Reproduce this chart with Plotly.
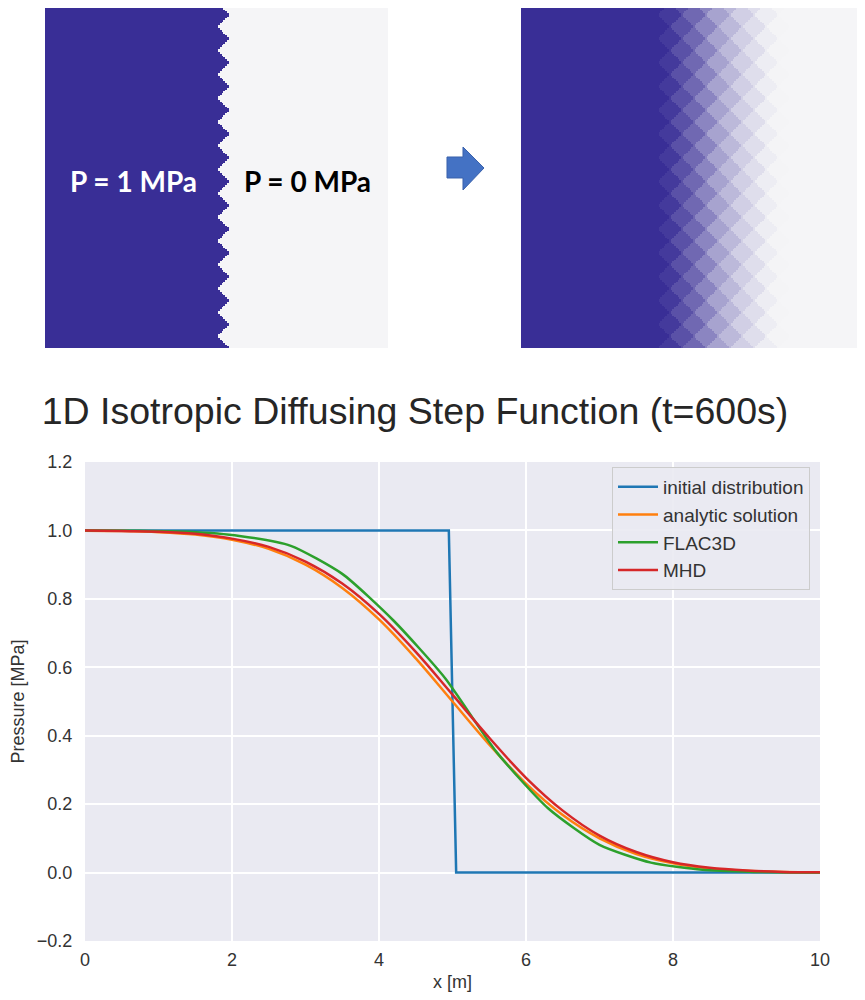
import numpy as np
import plotly.graph_objects as go

# ---------------- data ----------------
x_init = [0.0, 4.95, 5.05, 10.0]
p_init = [1.0, 1.0, 0.0, 0.0]

x_grid = [0.0, 0.5, 1.0, 1.5, 2.0, 2.5, 3.0, 3.5, 4.0, 4.5, 5.0,
          5.5, 6.0, 6.5, 7.0, 7.5, 8.0, 8.5, 9.0, 9.5, 10.0]
p_analytic = [0.999, 0.998, 0.995, 0.988, 0.973, 0.946, 0.900, 0.832, 0.740, 0.626, 0.500,
              0.374, 0.260, 0.168, 0.100, 0.054, 0.027, 0.012, 0.005, 0.002, 0.001]
p_mhd = [1.000, 0.998, 0.996, 0.990, 0.976, 0.952, 0.909, 0.845, 0.756, 0.645, 0.520,
         0.394, 0.277, 0.181, 0.108, 0.060, 0.030, 0.014, 0.006, 0.002, 0.001]

x_flac = [0.0, 0.7, 1.4, 2.1, 2.8, 3.5, 4.2, 4.9, 5.6, 6.3, 7.0, 7.7, 8.4, 9.1, 9.8, 10.0]
p_flac = [1.000, 0.999, 0.996, 0.984, 0.955, 0.873, 0.736, 0.568, 0.352, 0.188, 0.081,
          0.029, 0.008, 0.002, 0.000, 0.000]

series_names = ["initial distribution", "analytic solution", "FLAC3D", "MHD"]
series_colors = ["#1f77b4", "#ff7f0e", "#2ca02c", "#d62728"]

x_ticks = [0, 2, 4, 6, 8, 10]
y_ticks = [-0.2, 0.0, 0.2, 0.4, 0.6, 0.8, 1.0, 1.2]

# page body has an 8px margin, so the figure is drawn from (8, 8)
OFF = 8
W, H = 865 - OFF, 1000 - 2 * OFF


def px(x):
    return min(1.0, max(0.0, (x - OFF) / W))


def py(y):
    return min(1.0, max(0.0, 1 - (y - OFF) / H))


# ---------------- diamond-mesh pressure panels ----------------
mesh_d = 0.7
mesh_shift = 0.12
cells = np.arange(0.025, 10.0, 0.05)
U, V = np.meshgrid(cells, cells)
A = np.round((U - mesh_shift + V) / mesh_d)
B = np.round((U - mesh_shift - V) / mesh_d)
center_x = (A + B) / 2 * mesh_d
z_before = np.interp(center_x, x_init, p_init)
z_after = np.interp(center_x, x_flac, p_flac)

panel_scale = [[0.0, "rgb(245,245,247)"], [1.0, "rgb(57,46,150)"]]

fig = go.Figure()

fig.add_trace(go.Heatmap(x=cells, y=cells, z=z_before, colorscale=panel_scale,
                         zmin=0.0, zmax=1.0, showscale=False, hoverinfo="skip",
                         xaxis="x2", yaxis="y2", showlegend=False))
fig.add_trace(go.Heatmap(x=cells, y=cells, z=z_after, colorscale=panel_scale,
                         zmin=0.05, zmax=0.78, showscale=False, hoverinfo="skip",
                         xaxis="x3", yaxis="y3", showlegend=False))

# ---------------- line chart ----------------
fig.add_trace(go.Scatter(x=x_init, y=p_init, mode="lines", name=series_names[0],
                         line=dict(color=series_colors[0], width=2.5)))
fig.add_trace(go.Scatter(x=x_grid, y=p_analytic, mode="lines", name=series_names[1],
                         line=dict(color=series_colors[1], width=2.5, shape="spline")))
fig.add_trace(go.Scatter(x=x_flac, y=p_flac, mode="lines", name=series_names[2],
                         line=dict(color=series_colors[2], width=2.5, shape="spline",
                                   smoothing=0.6)))
fig.add_trace(go.Scatter(x=x_grid, y=p_mhd, mode="lines", name=series_names[3],
                         line=dict(color=series_colors[3], width=2.5, shape="spline")))

hidden = dict(visible=False, range=[0, 10], fixedrange=True)

fig.update_layout(
    width=W, height=H,
    margin=dict(l=0, r=0, t=0, b=0),
    paper_bgcolor="white",
    plot_bgcolor="#EAEAF2",
    font=dict(family="Liberation Sans, Arial, sans-serif", color="#333333", size=18),
    title=dict(text="1D Isotropic Diffusing Step Function (t=600s)",
               x=px(415), xanchor="center", y=py(411), yanchor="middle",
               font=dict(size=37.5, color="#262626")),
    xaxis=dict(domain=[px(85), px(820)], range=[0, 10], tickvals=x_ticks,
               showgrid=True, gridcolor="white", gridwidth=1.5, zeroline=False,
               showline=False, ticks="outside", ticklen=2, tickcolor="rgba(0,0,0,0)",
               tickfont=dict(size=18),
               title=dict(text="x [m]", standoff=12, font=dict(size=18)),
               automargin=False),
    yaxis=dict(domain=[py(941), py(462)], range=[-0.2, 1.2], tickvals=y_ticks,
               tickformat=".1f", showgrid=True, gridcolor="white", gridwidth=1.5,
               zeroline=False, showline=False, ticks="outside", ticklen=8,
               tickcolor="rgba(0,0,0,0)", tickfont=dict(size=18),
               title=dict(text="Pressure [MPa]", standoff=16, font=dict(size=18)),
               automargin=False),
    xaxis2=dict(domain=[px(45), px(388)], anchor="y2", **hidden),
    yaxis2=dict(domain=[py(348), py(5)], anchor="x2", **hidden),
    xaxis3=dict(domain=[px(521), px(865)], anchor="y3", **hidden),
    yaxis3=dict(domain=[py(348), py(5)], anchor="x3", **hidden),
    legend=dict(x=px(810), xanchor="right", y=py(467), yanchor="top",
                bgcolor="rgba(234,234,242,0.9)", bordercolor="#cccccc", borderwidth=1,
                font=dict(size=19, color="#333333"), tracegroupgap=0,
                itemwidth=40),
    showlegend=True,
)

# text labels on the left panel
fig.add_annotation(x=2.57, y=4.9, xref="x2", yref="y2", text="<b>P = 1 MPa</b>",
                   showarrow=False, font=dict(family="Lato, Open Sans, sans-serif",
                                              size=28, color="white"))
fig.add_annotation(x=7.64, y=4.9, xref="x2", yref="y2", text="<b>P = 0 MPa</b>",
                   showarrow=False, font=dict(family="Lato, Open Sans, sans-serif",
                                              size=28, color="black"))

# block arrow between panels
arrow_pts = [(447, 157), (463, 157), (463, 147), (484, 168), (463, 190), (463, 178), (447, 178)]
path = "M " + " L ".join(f"{px(a):.5f},{py(b):.5f}" for a, b in arrow_pts) + " Z"
fig.add_shape(type="path", path=path, xref="paper", yref="paper",
              fillcolor="#4472C4", line=dict(color="#3A62AC", width=1))

fig.write_html("out.html")
